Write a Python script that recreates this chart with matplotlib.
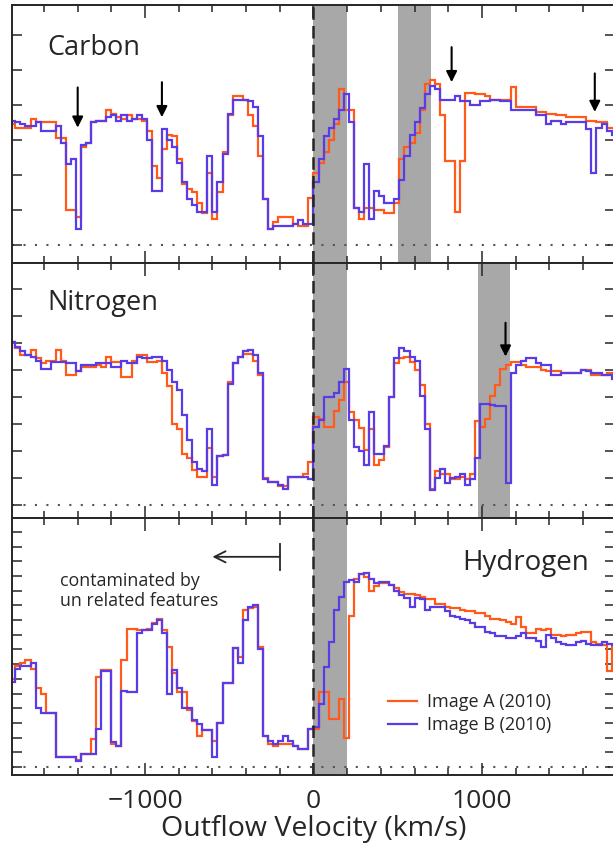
import numpy as np
import matplotlib
matplotlib.use("Agg")
import matplotlib.pyplot as plt
from matplotlib.ticker import MultipleLocator

plt.rcParams["font.family"] = ["Open Sans", "DejaVu Sans"]

# velocity bins in km/s (30 km/s wide)
bin_edges = np.arange(-1800, 1801, 30)

# normalised flux per bin, image A (orange) and image B (blue)
carbon_a = [
    0.69, 0.67, 0.67, 0.67, 0.72, 0.70, 0.70, 0.70, 0.70, 0.61,
    0.61, 0.20, 0.20, 0.16, 0.56, 0.58, 0.70, 0.71, 0.71, 0.77,
    0.75, 0.73, 0.72, 0.74, 0.72, 0.72, 0.71, 0.65, 0.45, 0.38,
    0.55, 0.63, 0.62, 0.49, 0.35, 0.32, 0.30, 0.24, 0.18, 0.41,
    0.15, 0.30, 0.53, 0.74, 0.85, 0.85, 0.83, 0.74, 0.68, 0.51,
    0.26, 0.09, 0.13, 0.16, 0.16, 0.16, 0.12, 0.11, 0.11, 0.27,
    0.41, 0.47, 0.53, 0.60, 0.69, 0.89, 0.77, 0.77, 0.21, 0.15,
    0.21, 0.21, 0.20, 0.20, 0.18, 0.18, 0.24, 0.49, 0.56, 0.58,
    0.64, 0.77, 0.92, 0.94, 0.92, 0.74, 0.48, 0.48, 0.19, 0.48,
    0.87, 0.87, 0.86, 0.86, 0.85, 0.83, 0.83, 0.83, 0.83, 0.90,
    0.79, 0.79, 0.79, 0.79, 0.76, 0.76, 0.75, 0.75, 0.74, 0.74,
    0.73, 0.73, 0.73, 0.73, 0.71, 0.71, 0.70, 0.70, 0.67, 0.67,
]
carbon_b = [
    0.71, 0.70, 0.69, 0.68, 0.68, 0.70, 0.65, 0.65, 0.65, 0.68,
    0.58, 0.46, 0.49, 0.09, 0.57, 0.58, 0.70, 0.71, 0.71, 0.73,
    0.74, 0.71, 0.74, 0.71, 0.72, 0.74, 0.72, 0.60, 0.31, 0.31,
    0.66, 0.60, 0.56, 0.47, 0.36, 0.26, 0.23, 0.19, 0.19, 0.51,
    0.19, 0.36, 0.52, 0.75, 0.83, 0.83, 0.83, 0.82, 0.79, 0.62,
    0.26, 0.09, 0.11, 0.11, 0.11, 0.11, 0.12, 0.14, 0.12, 0.12,
    0.36, 0.49, 0.62, 0.67, 0.72, 0.77, 0.86, 0.70, 0.21, 0.19,
    0.46, 0.15, 0.31, 0.28, 0.24, 0.24, 0.26, 0.37, 0.51, 0.63,
    0.70, 0.78, 0.86, 0.91, 0.89, 0.83, 0.83, 0.83, 0.85, 0.82,
    0.82, 0.80, 0.80, 0.82, 0.82, 0.83, 0.83, 0.82, 0.82, 0.77,
    0.77, 0.77, 0.77, 0.77, 0.74, 0.74, 0.69, 0.71, 0.71, 0.69,
    0.70, 0.70, 0.70, 0.70, 0.66, 0.41, 0.67, 0.69, 0.65, 0.63,
]
nitrogen_a = [
    1.21, 1.16, 1.11, 1.11, 1.15, 1.09, 1.05, 1.07, 1.07, 1.15,
    1.07, 0.96, 0.96, 0.99, 1.02, 1.02, 1.02, 1.04, 1.02, 1.10,
    1.06, 1.06, 0.95, 0.95, 1.07, 1.11, 1.11, 1.06, 1.06, 1.07,
    0.98, 0.88, 0.60, 0.56, 0.38, 0.35, 0.26, 0.21, 0.21, 0.42,
    0.21, 0.36, 0.37, 0.91, 1.05, 1.10, 1.12, 1.12, 1.07, 0.96,
    0.20, 0.17, 0.17, 0.14, 0.14, 0.21, 0.21, 0.21, 0.23, 0.32,
    0.65, 0.64, 0.58, 0.58, 0.70, 0.78, 0.91, 0.69, 0.63, 0.57,
    0.41, 0.56, 0.30, 0.33, 0.43, 0.80, 1.05, 1.09, 1.10, 1.06,
    1.00, 0.89, 0.60, 0.12, 0.25, 0.23, 0.23, 0.19, 0.19, 0.21,
    0.19, 0.23, 0.62, 0.58, 0.64, 0.81, 0.89, 1.01, 1.04, 1.06,
    1.06, 1.04, 1.02, 1.02, 1.02, 1.00, 0.99, 0.99, 0.99, 0.98,
    0.98, 0.98, 0.98, 1.00, 1.00, 0.96, 0.96, 0.96, 0.98, 0.98,
]
nitrogen_b = [
    1.21, 1.17, 1.14, 1.11, 1.10, 1.07, 1.01, 1.01, 1.06, 1.06,
    1.06, 1.05, 1.05, 0.99, 1.04, 1.04, 1.04, 1.05, 1.05, 1.05,
    1.02, 1.02, 1.07, 1.05, 1.05, 1.10, 1.09, 1.09, 1.10, 1.10,
    1.07, 1.00, 0.91, 0.85, 0.67, 0.48, 0.32, 0.27, 0.25, 0.56,
    0.15, 0.36, 0.37, 0.90, 1.05, 1.10, 1.14, 1.15, 1.11, 0.98,
    0.19, 0.17, 0.17, 0.15, 0.12, 0.21, 0.21, 0.21, 0.21, 0.19,
    0.58, 0.63, 0.80, 0.80, 0.83, 0.91, 1.01, 0.63, 0.43, 0.40,
    0.30, 0.69, 0.38, 0.38, 0.44, 0.80, 1.09, 1.16, 1.14, 1.10,
    1.07, 0.81, 0.56, 0.11, 0.20, 0.27, 0.16, 0.20, 0.21, 0.23,
    0.15, 0.19, 0.35, 0.75, 0.75, 0.74, 0.73, 0.73, 0.16, 0.98,
    1.04, 1.07, 1.09, 1.09, 1.05, 1.04, 1.04, 0.96, 0.96, 0.98,
    0.98, 0.98, 0.98, 1.00, 0.99, 0.98, 0.98, 0.96, 0.96, 0.93,
]
hydrogen_a = [
    0.60, 0.69, 0.71, 0.73, 0.67, 0.54, 0.50, 0.37, 0.37, 0.07,
    0.07, 0.07, 0.07, 0.05, 0.09, 0.09, 0.19, 0.61, 0.66, 0.66,
    0.16, 0.14, 0.73, 0.94, 0.94, 0.93, 0.93, 0.94, 0.98, 1.01,
    0.93, 0.82, 0.64, 0.51, 0.51, 0.39, 0.31, 0.21, 0.25, 0.25,
    0.18, 0.30, 0.57, 0.57, 0.81, 0.75, 1.07, 1.08, 1.09, 0.82,
    0.21, 0.16, 0.14, 0.16, 0.16, 0.16, 0.14, 0.12, 0.12, 0.26,
    0.26, 0.51, 0.51, 0.33, 0.33, 0.46, 0.20, 1.03, 1.28, 1.31,
    1.29, 1.20, 1.23, 1.25, 1.25, 1.24, 1.22, 1.19, 1.18, 1.18,
    1.17, 1.16, 1.14, 1.14, 1.11, 1.11, 1.09, 1.08, 1.08, 1.07,
    1.06, 1.06, 1.05, 1.05, 1.03, 1.01, 1.01, 1.00, 0.99, 0.97,
    1.02, 0.95, 0.91, 0.91, 0.94, 0.93, 0.94, 0.90, 0.90, 0.89,
    0.90, 0.90, 0.91, 0.92, 0.92, 0.85, 0.84, 0.83, 0.65, 0.82,
]
hydrogen_b = [
    0.58, 0.67, 0.69, 0.69, 0.71, 0.40, 0.37, 0.37, 0.37, 0.07,
    0.07, 0.07, 0.07, 0.04, 0.09, 0.09, 0.09, 0.26, 0.65, 0.65,
    0.17, 0.14, 0.52, 0.51, 0.51, 0.91, 0.93, 0.93, 0.97, 1.00,
    0.91, 0.50, 0.66, 0.54, 0.40, 0.40, 0.32, 0.29, 0.25, 0.25,
    0.07, 0.30, 0.57, 0.57, 0.81, 0.71, 1.00, 1.09, 1.10, 0.80,
    0.21, 0.18, 0.16, 0.18, 0.21, 0.18, 0.14, 0.12, 0.12, 0.26,
    0.27, 0.43, 0.68, 0.85, 1.07, 1.16, 1.26, 1.27, 1.26, 1.31,
    1.32, 1.28, 1.25, 1.26, 1.26, 1.24, 1.20, 1.17, 1.15, 1.09,
    1.15, 1.14, 1.07, 1.09, 1.09, 1.09, 1.06, 1.03, 1.02, 1.01,
    1.00, 0.98, 0.95, 0.95, 0.92, 0.91, 0.89, 0.89, 0.88, 0.88,
    0.89, 0.91, 0.88, 0.88, 0.86, 0.82, 0.90, 0.88, 0.85, 0.84,
    0.83, 0.83, 0.85, 0.86, 0.84, 0.83, 0.83, 0.85, 0.84, 0.83,
]

# shaded velocity intervals and marked features (km/s)
carbon_bands = [(0, 200), (500, 700)]
nitrogen_bands = [(0, 200), (975, 1165)]
hydrogen_bands = [(0, 200)]
carbon_marks = [-1400, -900, 820, 1670]
nitrogen_marks = [1140]

orange = "#ff5a1a"
blue = "#5a3ce6"
ink = "#262626"

W, H = 613, 849
fig = plt.figure(figsize=(W / 100, H / 100), dpi=100)


def add_panel(top, bottom):
    # axes box given in pixels of the final image
    return fig.add_axes([12 / W, 1 - bottom / H, 603 / W, (bottom - top) / H])


ax1 = add_panel(5, 263)
ax2 = add_panel(263, 518)
ax3 = add_panel(518, 775)

panels = [
    (ax1, carbon_a, carbon_b, carbon_bands, (-0.103, 1.371), 0.2, 1.2),
    (ax2, nitrogen_a, nitrogen_b, nitrogen_bands, (-0.096, 1.793), 0.2, 1.6),
    (ax3, hydrogen_a, hydrogen_b, hydrogen_bands, (-0.054, 1.694), 0.1, 1.6),
]

for ax, flux_a, flux_b, bands, ylim, ystep, ymax in panels:
    for lo, hi in bands:
        ax.axvspan(lo, hi, color="#a8a8a8", lw=0, zorder=0.5)
    ax.axhline(0, color="#555555", lw=1.5, dashes=(1, 4.5), zorder=1)
    ax.stairs(flux_a, bin_edges, color=orange, lw=1.6, baseline=None, zorder=2)
    ax.stairs(flux_b, bin_edges, color=blue, lw=1.6, baseline=None, zorder=2.5)
    ax.axvline(0, color=ink, lw=1.8, dashes=(5, 2.5), zorder=3)

    ax.set_xlim(-1790, 1790)
    ax.set_ylim(*ylim)
    ax.set_xticks([-1000, 0, 1000])
    ax.xaxis.set_minor_locator(MultipleLocator(200))
    ax.set_yticks(np.arange(0, ymax + 1e-6, ystep))
    ax.tick_params(which="both", direction="in", top=True, right=True,
                   colors=ink, width=1.1, labelleft=False, labelbottom=False)
    ax.tick_params(axis="x", which="major", length=9)
    ax.tick_params(axis="x", which="minor", length=5)
    ax.tick_params(axis="y", which="major", length=7)
    for spine in ax.spines.values():
        spine.set_color(ink)
        spine.set_linewidth(1.4)

ax3.tick_params(axis="x", labelbottom=True, labelsize=19, pad=10)
ax3.set_xlabel("Outflow Velocity (km/s)", fontsize=20.5, color=ink, labelpad=1)

arrow = dict(arrowstyle="-|>", color="black", lw=1.5, mutation_scale=16,
             shrinkA=0, shrinkB=0)
for v, (head, tail) in zip(carbon_marks, [(0.67, 0.90), (0.73, 0.93),
                                          (0.93, 1.13), (0.76, 0.98)]):
    ax1.annotate("", xy=(v, head), xytext=(v, tail), arrowprops=arrow)
for v in nitrogen_marks:
    ax2.annotate("", xy=(v, 1.10), xytext=(v, 1.35), arrowprops=arrow)

# contaminated range marker in the hydrogen panel
ax3.annotate("", xy=(-600, 1.43), xytext=(-200, 1.43),
             arrowprops=dict(arrowstyle="->", color=ink, lw=1.3,
                             mutation_scale=20, shrinkA=0, shrinkB=0))
ax3.plot([-200, -200], [1.34, 1.52], color=ink, lw=1.3)

ax1.text(0.058, 0.833, "Carbon", transform=ax1.transAxes, fontsize=19.5,
         va="center", color=ink)
ax2.text(0.058, 0.843, "Nitrogen", transform=ax2.transAxes, fontsize=19.5,
         va="center", color=ink)
ax3.text(0.746, 0.825, "Hydrogen", transform=ax3.transAxes, fontsize=20,
         va="center", color=ink)
ax3.text(0.080, 0.716, "contaminated by\nun related features",
         transform=ax3.transAxes, fontsize=12.8, va="center", color=ink,
         linespacing=1.15)

line_a, = ax3.plot([], [], color=orange, lw=1.6)
line_b, = ax3.plot([], [], color=blue, lw=1.6)
ax3.legend([line_a, line_b], ["Image A (2010)", "Image B (2010)"],
           loc="upper left", bbox_to_anchor=(388 / W, 1 - 693 / H),
           bbox_transform=fig.transFigure, frameon=False, fontsize=13,
           handlelength=1.6, handletextpad=0.55, labelspacing=0.3,
           borderpad=0, borderaxespad=0, labelcolor=ink)

fig.savefig("out.png", dpi=100)
